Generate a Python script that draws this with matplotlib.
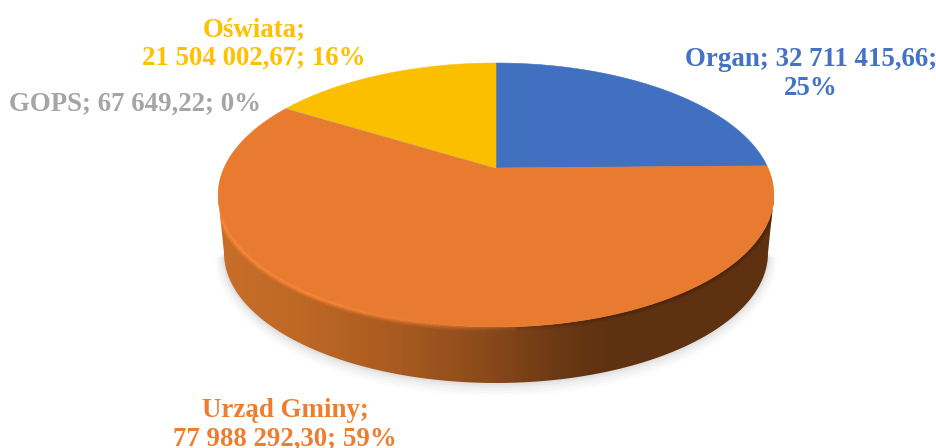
import numpy as np
import matplotlib
matplotlib.use('Agg')
import matplotlib.pyplot as plt
from matplotlib.collections import LineCollection
from matplotlib.patches import Polygon

# data
names = ['Organ', 'Urząd Gminy', 'GOPS', 'Oświata']
values = [32711415.66, 77988292.30, 67649.22, 21504002.67]
colors = ['#4170C0', '#E97B30', '#A5A5A5', '#FCBF00']
text_colors = ['#4472C4', '#ED7D31', '#A5A5A5', '#FFC000']
labels = ['Organ; 32 711 415,66;\n25%',
          'Urząd Gminy;\n77 988 292,30; 59%',
          'GOPS; 67 649,22; 0%',
          'Oświata;\n21 504 002,67; 16%']
label_x = [811, 285, 135, 254]
label_y = [74, 425, 104, 44]

# pie geometry in pixels
cx = 496
apex_y = 168
persp = 0.2045
y_a = -92.1
x_a = 272
rim_cy, rim_a, rim_b = 195, 278, 132
base_cy, base_a, base_b = 253, 272, 130


# disc angle (clockwise from the top) to screen position, with perspective
def project(ang):
    u = np.sin(ang)
    v = np.cos(ang)
    d = persp * v + 1
    return cx + x_a * u / d, (y_a * v + apex_y) / d


fig = plt.figure(figsize=(9.36, 4.48), dpi=100)
ax = fig.add_axes([0, 0, 1, 1])
ax.axis('off')

th = np.linspace(0, np.pi, 200)
rim_x = cx + rim_a * np.cos(th)
rim_y = rim_cy + rim_b * np.sin(th)
base_x = cx + base_a * np.cos(th)
base_y = base_cy + base_b * np.sin(th)

# soft shadow under the side
for off, alpha in zip([9, 7, 5, 3, 1.5], [0.02, 0.03, 0.04, 0.05, 0.07]):
    ax.add_patch(Polygon(np.column_stack([cx + (base_a + off) * np.cos(th),
                                          base_cy + off / 2 + (base_b + off) * np.sin(th)]),
                         closed=True, fc='#707070', ec='none', alpha=alpha))

# side wall with left to right shading
side = Polygon(np.column_stack([np.r_[rim_x, base_x[::-1]], np.r_[rim_y, base_y[::-1]]]),
               closed=True, fc='none', ec='none')
ax.add_patch(side)
gx = np.arange(218, 775)
stops_x = [218, 300, 400, 490, 560, 610, 775]
stops = np.array([[200, 110, 42], [190, 104, 38], [168, 90, 32],
                  [136, 73, 26], [106, 56, 20], [94, 49, 17], [94, 49, 17]]) / 255
grad = np.stack([np.interp(gx, stops_x, stops[:, i]) for i in range(3)], axis=1)[None, :, :]
im = ax.imshow(grad, extent=[218, 775, 400, 150], aspect='auto', zorder=2)
im.set_clip_path(side)

# bevel on the front edge, light on the left and dark on the right, kept inside the wall
pts = np.column_stack([rim_x, rim_y]).reshape(-1, 1, 2)
segs = np.concatenate([pts[:-1], pts[1:]], axis=1)
seg_x = rim_x[:-1]
for width, fade in zip([7, 4.5, 2.5], [0.35, 0.6, 0.9]):
    seg_col = np.zeros((len(segs), 4))
    for i, x in enumerate(seg_x):
        if x < 520:
            seg_col[i] = [0.99, 0.53, 0.22, fade * np.clip((520 - x) / 200, 0.1, 1)]
        else:
            seg_col[i] = [0.30, 0.15, 0.05, fade * np.clip((x - 520) / 150, 0.1, 0.8)]
    bevel = LineCollection(segs, colors=seg_col, linewidths=width, zorder=3, capstyle='butt')
    ax.add_collection(bevel)
    bevel.set_clip_path(side)

# top face, slices start at the top and go clockwise
total = sum(values)
start = 0
for val, col in zip(values, colors):
    sweep = val / total * 2 * np.pi
    ang = np.linspace(start, start + sweep, max(3, int(sweep * 80)))
    px, py = project(ang)
    ax.add_patch(Polygon(np.column_stack([np.r_[cx, px], np.r_[apex_y, py]]),
                         closed=True, fc=col, ec=col, lw=0.4, zorder=4))
    start += sweep

# data labels
for txt, x, y, col in zip(labels, label_x, label_y, text_colors):
    ax.text(x, y, txt, color=col, ha='center', va='center',
            family='Liberation Serif', fontweight='bold', fontsize=19.4,
            linespacing=1.22, zorder=5)

ax.set_xlim(0, 936)
ax.set_ylim(448, 0)
fig.savefig('out.png', dpi=100, facecolor='white')
